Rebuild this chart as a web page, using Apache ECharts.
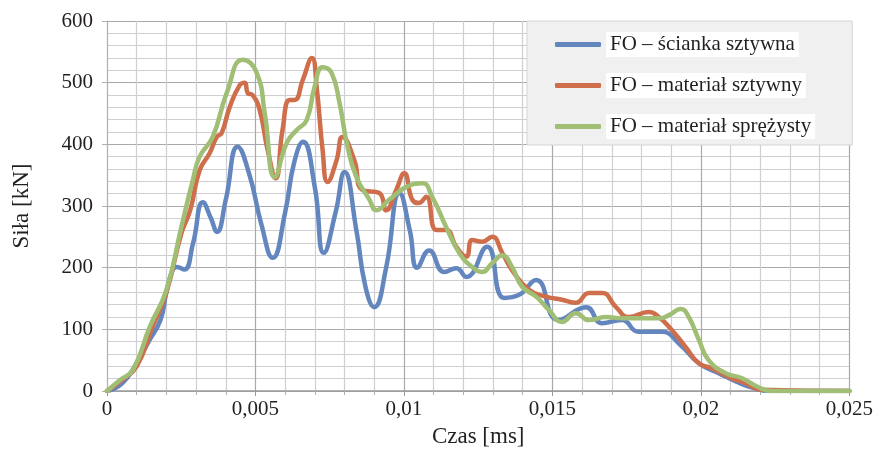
<!DOCTYPE html>
<html>
<head>
<meta charset="utf-8">
<script src="https://cdn.jsdelivr.net/npm/echarts@6/dist/echarts.min.js"></script>
<style>html,body{margin:0;padding:0;background:#fff}#c{width:876px;height:454px}</style>
</head>
<body>
<div id="c"></div>
<script>
var seriesNames = ['FO – ścianka sztywna', 'FO – materiał sztywny', 'FO – materiał sprężysty'];
var xTicks = [0, 0.005, 0.01, 0.015, 0.02, 0.025];
var yTicks = [0, 100, 200, 300, 400, 500, 600];

var tBlue = [0, 0.0005, 0.001, 0.0014, 0.0018, 0.002, 0.0022, 0.00235, 0.0026, 0.0029, 0.00323, 0.0035, 0.0037, 0.004, 0.0044, 0.0048, 0.0052, 0.00558, 0.006, 0.0063, 0.0066, 0.007, 0.0073, 0.0077, 0.008, 0.0084, 0.0087, 0.009, 0.0094, 0.00985, 0.0102, 0.01045, 0.01085, 0.01136, 0.01176, 0.0121, 0.0128, 0.01337, 0.01388, 0.01445, 0.0152, 0.01613, 0.01667, 0.01734, 0.0179, 0.01868, 0.0193, 0.01993, 0.0206, 0.0212, 0.0217, 0.0223, 0.025];
var fBlue = [0, 12, 45, 80, 115, 160, 195, 201, 197, 240, 306, 280, 258, 310, 396, 350, 270, 216, 290, 370, 404, 330, 224, 290, 355, 260, 170, 136, 200, 321, 260, 200, 228, 193, 199, 185, 234, 151, 156, 180, 115, 136, 110, 115, 96, 96, 75, 45, 29, 15, 6, 0, 0];

var tOrange = [0, 0.0005, 0.001, 0.0015, 0.002, 0.0025, 0.0028, 0.00312, 0.00346, 0.0037, 0.00386, 0.00413, 0.00447, 0.00464, 0.00474, 0.0049, 0.00514, 0.00541, 0.00568, 0.00591, 0.00615, 0.00632, 0.00659, 0.0069, 0.00706, 0.00726, 0.00743, 0.00773, 0.00793, 0.00833, 0.0086, 0.00917, 0.0094, 0.00974, 0.01001, 0.01028, 0.0105, 0.01075, 0.01109, 0.01142, 0.01176, 0.0121, 0.0123, 0.01263, 0.01297, 0.01331, 0.01364, 0.01421, 0.01478, 0.01532, 0.01579, 0.01623, 0.01667, 0.01714, 0.01757, 0.01825, 0.01858, 0.01902, 0.01949, 0.01993, 0.02036, 0.02093, 0.0215, 0.02204, 0.025];
var fOrange = [0, 18, 40, 100, 160, 255, 293, 358, 386, 412, 418, 460, 496, 500, 483, 480, 456, 391, 345, 423, 472, 472, 504, 540, 493, 391, 339, 374, 412, 374, 326, 321, 293, 326, 353, 310, 305, 315, 261, 261, 234, 218, 245, 242, 250, 224, 196, 164, 153, 148, 143, 159, 159, 136, 120, 128, 120, 99, 71, 45, 37, 23, 13, 2, 0];

var tGreen = [0, 0.00044, 0.00087, 0.00144, 0.002, 0.0025, 0.00289, 0.00312, 0.00356, 0.00403, 0.00457, 0.00504, 0.00531, 0.00565, 0.00605, 0.00638, 0.00672, 0.00699, 0.00726, 0.00756, 0.00783, 0.0081, 0.0084, 0.00884, 0.00907, 0.0095, 0.01008, 0.01062, 0.01095, 0.01142, 0.01186, 0.0123, 0.01263, 0.01297, 0.01331, 0.01364, 0.01398, 0.01445, 0.01489, 0.01532, 0.01579, 0.01623, 0.0168, 0.01734, 0.0179, 0.0186, 0.01892, 0.01932, 0.01959, 0.01993, 0.02026, 0.02083, 0.02137, 0.02194, 0.02238, 0.025];
var fGreen = [0, 18, 34, 104, 164, 265, 342, 380, 412, 483, 537, 516, 451, 347, 402, 423, 439, 493, 525, 516, 467, 396, 347, 310, 293, 310, 331, 337, 315, 266, 224, 201, 193, 207, 220, 201, 169, 153, 131, 112, 126, 115, 120, 118, 118, 118, 123, 133, 120, 83, 50, 29, 21, 6, 0, 0];

var colors = ['#6386be', '#cf6e4b', '#a0bf74'];
var FONT = '"Liberation Serif", "DejaVu Serif", serif';

function zip(t, f) { return t.map(function (x, i) { return [x, f[i]]; }); }
var allData = [zip(tBlue, fBlue), zip(tOrange, fOrange), zip(tGreen, fGreen)];

var chart = echarts.init(document.getElementById('c'));
chart.setOption({
  animation: false,
  backgroundColor: '#ffffff',
  textStyle: { fontFamily: FONT },
  grid: { left: 107, right: 25, top: 21, bottom: 63, containLabel: false },
  legend: {
    orient: 'vertical', left: 527, top: 21,
    padding: [11, 37, 6, 28],
    itemGap: 16, itemWidth: 46, itemHeight: 5,
    icon: 'roundRect',
    backgroundColor: '#f0f0f0', borderColor: '#d4d4d4', borderWidth: 1,
    textStyle: { fontFamily: FONT, fontSize: 21, color: '#231f20', backgroundColor: '#ffffff', padding: [2, 4, 2, 4] },
    data: seriesNames
  },
  xAxis: {
    type: 'value', min: xTicks[0], max: xTicks[xTicks.length - 1], interval: 0.005,
    name: 'Czas [ms]', nameLocation: 'middle', nameGap: 34,
    nameTextStyle: { fontFamily: FONT, fontSize: 23, color: '#231f20' },
    axisLine: { show: true, lineStyle: { color: '#9a9a9a', width: 1.5 } },
    axisTick: { show: true, length: 5, lineStyle: { color: '#9a9a9a' } },
    minorTick: { show: true, splitNumber: 5, length: 4, lineStyle: { color: '#b0b0b0' } },
    axisLabel: { fontFamily: FONT, fontSize: 21, color: '#231f20', margin: 8,
      formatter: function (v) { return String(+v.toFixed(3)).replace('.', ','); } },
    splitLine: { show: true, lineStyle: { color: '#a9a9ad', width: 1.2 } },
    minorSplitLine: { show: true, lineStyle: { color: '#cfcfd3', width: 1.2 } }
  },
  yAxis: {
    type: 'value', min: yTicks[0], max: yTicks[yTicks.length - 1], interval: 100,
    name: 'Siła [kN]', nameLocation: 'middle', nameGap: 74,
    nameTextStyle: { fontFamily: FONT, fontSize: 23, color: '#231f20' },
    axisLine: { show: true, lineStyle: { color: '#b0b0b0' } },
    axisTick: { show: true, length: 5, lineStyle: { color: '#b0b0b0' } },
    minorTick: { show: false },
    axisLabel: { fontFamily: FONT, fontSize: 21, color: '#231f20', margin: 14 },
    splitLine: { show: true, lineStyle: { color: '#a9a9ad', width: 1.2 } },
    minorSplitLine: { show: true, lineStyle: { color: '#cfcfd3', width: 1.2 } }
  },
  series: allData.map(function (d, i) {
    return {
      name: seriesNames[i], type: 'line', data: d, smooth: 0.5,
      showSymbol: false, symbol: 'none',
      lineStyle: { color: colors[i], width: 4.5, cap: 'round', join: 'round' },
      itemStyle: { color: colors[i] }
    };
  })
});
</script>
</body>
</html>
